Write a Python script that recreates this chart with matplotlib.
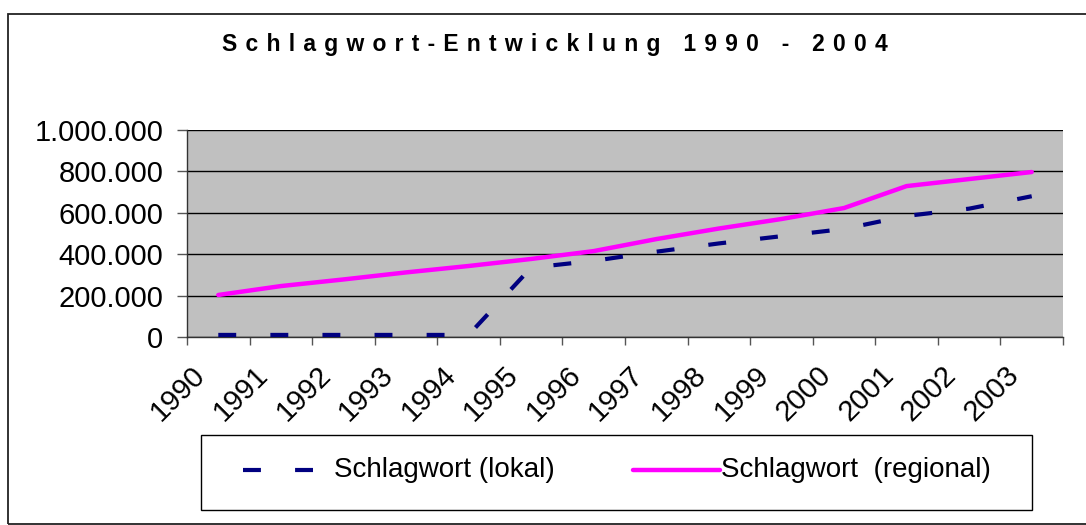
import numpy as np
import matplotlib
matplotlib.use("Agg")
import matplotlib.pyplot as plt
from matplotlib.patches import Rectangle
from matplotlib.lines import Line2D
from matplotlib.ticker import FuncFormatter
import matplotlib.transforms as mtransforms

plt.rcParams['font.family'] = ['Liberation Sans', 'DejaVu Sans']

# data
years = ['1990', '1991', '1992', '1993', '1994', '1995', '1996',
         '1997', '1998', '1999', '2000', '2001', '2002', '2003']
lokal = [10000, 10000, 10000, 10000, 10000, 335000, 368000,
         412000, 452000, 487000, 522000, 585000, 620000, 680000]
regional = [203000, 246000, 278000, 312000, 343000, 377000, 415000,
            473000, 524000, 570000, 623000, 729000, 763000, 797000]
y_ticks = [0, 200000, 400000, 600000, 800000, 1000000]
title = "Schlagwort-Entwicklung 1990 - 2004"
legend_labels = ["Schlagwort (lokal)", "Schlagwort  (regional)"]

W, H = 1086, 525
fig = plt.figure(figsize=(W / 100, H / 100), dpi=100)


def px(x, y):
    # pixel (from top-left) -> figure fraction
    return x / W, 1 - y / H


# outer chart border
fig.add_artist(Rectangle(px(8, 524), (W + 10) / W, 510 / H, fill=False,
                         edgecolor='#222222', linewidth=1.3,
                         transform=fig.transFigure))

left, top = px(187, 130)
right, bottom = px(1063, 337)
ax = fig.add_axes([left, bottom, right - left, top - bottom])
ax.set_facecolor('#C0C0C0')

x = np.arange(len(years))
ax.plot(x, lokal, color='#000080', linewidth=3.0, dashes=(4.3, 8.2),
        dash_capstyle='butt', zorder=3)
ax.plot(x, regional, color='#FF00FF', linewidth=3.2,
        solid_capstyle='round', zorder=4)

ax.set_xlim(-0.5, len(years) - 0.5)
ax.set_ylim(0, 1000000)
ax.set_yticks(y_ticks)
ax.yaxis.set_major_formatter(
    FuncFormatter(lambda v, p: f"{int(v):,}".replace(",", ".")))
ax.yaxis.grid(True, color='black', linewidth=1.0)
ax.set_axisbelow(True)

for s in ['top', 'right']:
    ax.spines[s].set_visible(False)
for s in ['left', 'bottom']:
    ax.spines[s].set_color('#333333')
    ax.spines[s].set_linewidth(1.0)

# category boundary ticks, labels at category centres
ax.set_xticks(np.arange(len(years) + 1) - 0.5)
ax.set_xticklabels([])
ax.set_xticks(x, minor=True)
ax.set_xticklabels(years, minor=True, rotation=45, ha='right', va='top',
                   rotation_mode='anchor', fontsize=21)
ax.tick_params(axis='x', which='major', length=6, width=1.0, color='#555555',
               direction='out')
ax.tick_params(axis='x', which='minor', length=0, pad=17)
ax.tick_params(axis='y', length=7, width=1.0, color='#555555', pad=10,
               labelsize=21)
offset = mtransforms.ScaledTranslation(-0.27, 0, fig.dpi_scale_trans)
for lab in ax.xaxis.get_minorticklabels():
    lab.set_transform(lab.get_transform() + offset)

# letter-spaced title (space + hair space between characters)
fig.text(0.5 * (216 + 893) / W, px(0, 45)[1], " \u200a".join(title),
         ha='center', va='center', fontsize=16.5, fontweight='bold')

# legend box
lx0, ly0 = px(201, 510)
lx1, ly1 = px(1032, 435)
fig.add_artist(Rectangle((lx0, ly0), lx1 - lx0, ly1 - ly0, facecolor='white',
                         edgecolor='black', linewidth=1.0,
                         transform=fig.transFigure))
ly = px(0, 470)[1]
fig.add_artist(Line2D([243 / W, 313 / W], [ly, ly], color='#000080',
                      linewidth=3.0, dashes=(4.3, 8.2),
                      dash_capstyle='butt', transform=fig.transFigure))
fig.add_artist(Line2D([633 / W, 720 / W], [ly, ly], color='#FF00FF',
                      linewidth=3.2, solid_capstyle='round',
                      transform=fig.transFigure))
fig.text(334 / W, ly, legend_labels[0], ha='left', va='center', fontsize=20)
fig.text(721 / W, ly, legend_labels[1], ha='left', va='center', fontsize=20)

fig.savefig("out.png", dpi=100)
